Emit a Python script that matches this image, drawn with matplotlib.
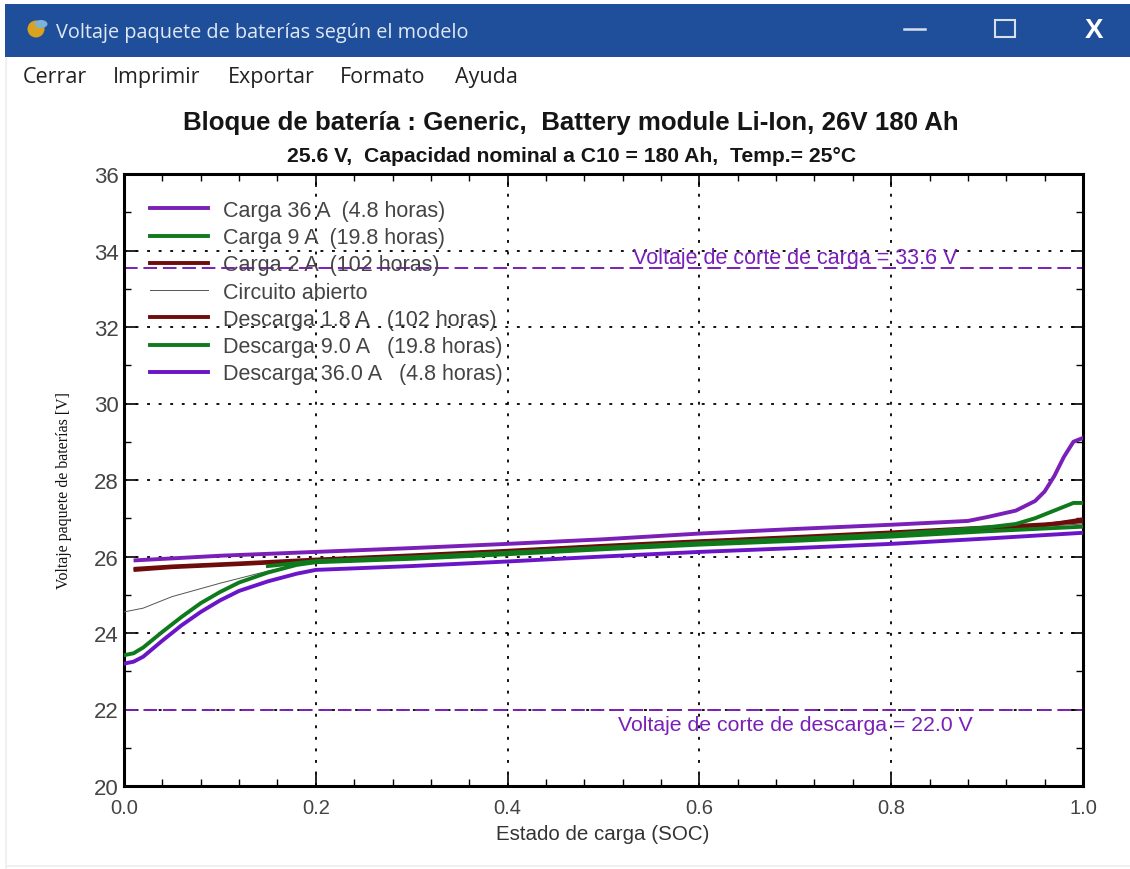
import matplotlib
matplotlib.use("Agg")
import matplotlib.pyplot as plt
from matplotlib.patches import Rectangle, Ellipse
from matplotlib.lines import Line2D

W, H = 1130, 870
SANS = "Liberation Sans"

soc_main = [0.0, 0.01, 0.02, 0.04, 0.06, 0.08, 0.10, 0.12, 0.15, 0.18, 0.20, 0.30, 0.40, 0.50, 0.60, 0.70, 0.80, 0.90, 1.0]
desc36 = [23.2, 23.25, 23.38, 23.8, 24.2, 24.55, 24.85, 25.1, 25.35, 25.55, 25.65, 25.75, 25.87, 26.0, 26.12, 26.22, 26.33, 26.47, 26.62]
desc9 = [23.42, 23.47, 23.62, 24.03, 24.42, 24.78, 25.07, 25.32, 25.58, 25.78, 25.85, 25.94, 26.06, 26.19, 26.31, 26.41, 26.52, 26.66, 26.78]

soc_open = [0.0, 0.02, 0.05, 0.10, 0.15, 0.20, 0.30, 0.40, 0.50, 0.60, 0.70, 0.80, 0.90, 1.0]
open_v = [24.55, 24.65, 24.95, 25.3, 25.62, 25.87, 25.98, 26.1, 26.23, 26.35, 26.46, 26.57, 26.7, 26.85]

soc_low = [0.012, 0.05, 0.12, 0.20, 0.30, 0.40, 0.50, 0.60, 0.70, 0.80, 0.90, 0.96, 1.0]
desc18 = [25.65, 25.72, 25.8, 25.9, 26.01, 26.13, 26.26, 26.38, 26.49, 26.6, 26.74, 26.82, 26.97]
carga2 = [25.68, 25.74, 25.82, 25.92, 26.03, 26.15, 26.28, 26.4, 26.51, 26.63, 26.76, 26.84, 26.92]

soc_c9 = [0.15, 0.20, 0.30, 0.40, 0.50, 0.60, 0.70, 0.80, 0.90, 0.93, 0.95, 0.97, 0.99, 1.0]
carga9 = [25.75, 25.88, 25.98, 26.1, 26.23, 26.35, 26.46, 26.58, 26.76, 26.85, 27.0, 27.2, 27.4, 27.4]

soc_c36 = [0.012, 0.05, 0.10, 0.20, 0.30, 0.40, 0.50, 0.60, 0.70, 0.80, 0.88, 0.90, 0.93, 0.95, 0.96, 0.97, 0.98, 0.99, 1.0]
carga36 = [25.9, 25.95, 26.02, 26.12, 26.22, 26.33, 26.45, 26.6, 26.72, 26.83, 26.93, 27.03, 27.2, 27.45, 27.7, 28.1, 28.6, 29.0, 29.1]

cutoff_charge = 33.55
cutoff_discharge = 22.0
x_ticks = [0.0, 0.2, 0.4, 0.6, 0.8, 1.0]
y_ticks = [20, 22, 24, 26, 28, 30, 32, 34, 36]
menu_items = ["Cerrar", "Imprimir", "Exportar", "Formato", "Ayuda"]
menu_x = [23, 113, 228, 340, 455]

PURPLE = "#7a1fb8"
VIOLET = "#6a16c8"
GREEN = "#0f7a1c"
RED = "#6e0b0b"
LW = 2.8

fig = plt.figure(figsize=(W / 100, H / 100), dpi=100, facecolor="white")
ax = fig.add_axes([124 / W, 1 - 787 / H, (1083 - 124) / W, (787 - 175) / H])

fig.add_artist(Rectangle((5 / W, 1 - 58 / H), (W - 5) / W, 53 / H, transform=fig.transFigure, color="#1f4f9a", lw=0))
fig.add_artist(Rectangle((5 / W, 0), 2 / W, 1 - 58 / H, transform=fig.transFigure, color="#f0f0f0", lw=0))
fig.add_artist(Rectangle((5 / W, 1 - 868 / H), (W - 5) / W, 2 / H, transform=fig.transFigure, color="#f0f0f0", lw=0))

fig.text(56 / W, 1 - 38 / H, "Voltaje paquete de baterías según el modelo", color="#dfe8f4",
         fontsize=14.3, family="Open Sans", va="baseline", ha="left")
fig.add_artist(Ellipse((36 / W, 1 - 30 / H), 17 / W, 17 / H, transform=fig.transFigure, color="#d9a21f", lw=0))
fig.add_artist(Ellipse((41 / W, 1 - 25 / H), 13 / W, 8 / H, transform=fig.transFigure, color="#7fb2d8", lw=0))
fig.add_artist(Line2D([904 / W, 925 / W], [1 - 30 / H] * 2, color="#d5e0ee", lw=1.8))
fig.add_artist(Rectangle((995 / W, 1 - 38 / H), 20 / W, 17 / H, transform=fig.transFigure, fill=False, ec="#d5e0ee", lw=1.5))
fig.text(1094 / W, 1 - 31 / H, "X", color="white", fontsize=20, fontweight="bold", family=SANS, ha="center", va="center")

for label, xp in zip(menu_items, menu_x):
    fig.text(xp / W, 1 - 83 / H, label, fontsize=15.5, color="#222222", family="Open Sans", va="baseline", ha="left")

fig.text(571 / W, 1 - 123 / H, "Bloque de batería : Generic,  Battery module Li-Ion, 26V 180 Ah",
         fontsize=18.6, fontweight="bold", family=SANS, ha="center", va="center", color="#151515")
fig.text(572 / W, 1 - 157 / H, "25.6 V,  Capacidad nominal a C10 = 180 Ah,  Temp.= 25°C",
         fontsize=15.2, fontweight="bold", family=SANS, ha="center", va="center", color="#151515")

ax.plot(soc_c36, carga36, color=PURPLE, lw=LW, zorder=3)
ax.plot(soc_main, desc36, color=VIOLET, lw=LW, zorder=3)
ax.plot(soc_open, open_v, color="#555555", lw=0.7, zorder=3)
ax.plot(soc_low, desc18, color=RED, lw=LW, zorder=4)
ax.plot(soc_low, carga2, color=RED, lw=LW, zorder=4)
ax.plot(soc_c9, carga9, color=GREEN, lw=LW, zorder=5)
ax.plot(soc_main, desc9, color=GREEN, lw=LW, zorder=5)

ax.axhline(cutoff_charge, color=PURPLE, lw=1.4, dashes=(7, 3), zorder=2)
ax.axhline(cutoff_discharge, color=PURPLE, lw=1.4, dashes=(7, 3), zorder=2)
ax.text(0.70, 33.83, "Voltaje de corte de carga = 33.6 V", color=PURPLE, fontsize=15.5, family=SANS, ha="center", va="center")
ax.text(0.70, 21.6, "Voltaje de corte de descarga = 22.0 V", color=PURPLE, fontsize=15.3, family=SANS, ha="center", va="center")

ax.set_xlim(0, 1)
ax.set_ylim(20, 36)
ax.set_xticks(x_ticks)
ax.set_yticks(y_ticks)
ax.set_xticks([i * 0.04 for i in range(26)], minor=True)
ax.set_yticks(list(range(20, 37)), minor=True)
ax.set_xticklabels([f"{t:.1f}" for t in x_ticks], fontsize=14.5, family=SANS, color="#444444")
ax.set_yticklabels([str(t) for t in y_ticks], fontsize=16, family=SANS, color="#444444")
ax.tick_params(which="major", direction="in", length=9, width=1.2, top=True, right=True)
ax.tick_params(axis="x", which="major", pad=9)
ax.tick_params(axis="y", which="major", pad=4)
ax.tick_params(which="minor", direction="in", length=5, width=1, top=True, right=True)
ax.grid(True, which="major", color="black", lw=1.3, linestyle=(0, (1.6, 4.8)), zorder=1)
ax.set_axisbelow(True)
for s in ax.spines.values():
    s.set_linewidth(2.2)
fig.text(603 / W, 1 - 835 / H, "Estado de carga (SOC)", fontsize=14.8, family=SANS, color="#333333", ha="center", va="center")
fig.text(64 / W, 1 - 491 / H, "Voltaje paquete de baterías [V]", fontsize=11.4, family="Liberation Serif",
         color="#111111", rotation=90, ha="center", va="center")

handles = [
    Line2D([], [], color=PURPLE, lw=LW),
    Line2D([], [], color=GREEN, lw=LW),
    Line2D([], [], color=RED, lw=LW),
    Line2D([], [], color="#555555", lw=0.7),
    Line2D([], [], color=RED, lw=LW),
    Line2D([], [], color=GREEN, lw=LW),
    Line2D([], [], color=VIOLET, lw=LW),
]
labels = ["Carga 36 A  (4.8 horas)", "Carga 9 A  (19.8 horas)", "Carga 2 A  (102 horas)", "Circuito abierto",
          "Descarga 1.8 A   (102 horas)", "Descarga 9.0 A   (19.8 horas)", "Descarga 36.0 A   (4.8 horas)"]
leg = ax.legend(handles, labels, loc="upper left", bbox_to_anchor=(150 / W, 1 - 201 / H), bbox_transform=fig.transFigure,
                frameon=False, borderpad=0, borderaxespad=0, handlelength=2.7, handletextpad=0.7, labelspacing=0.29,
                prop={"family": SANS, "size": 15.5})
for t in leg.get_texts():
    t.set_color("#444444")

fig.savefig("out.png", dpi=100)
